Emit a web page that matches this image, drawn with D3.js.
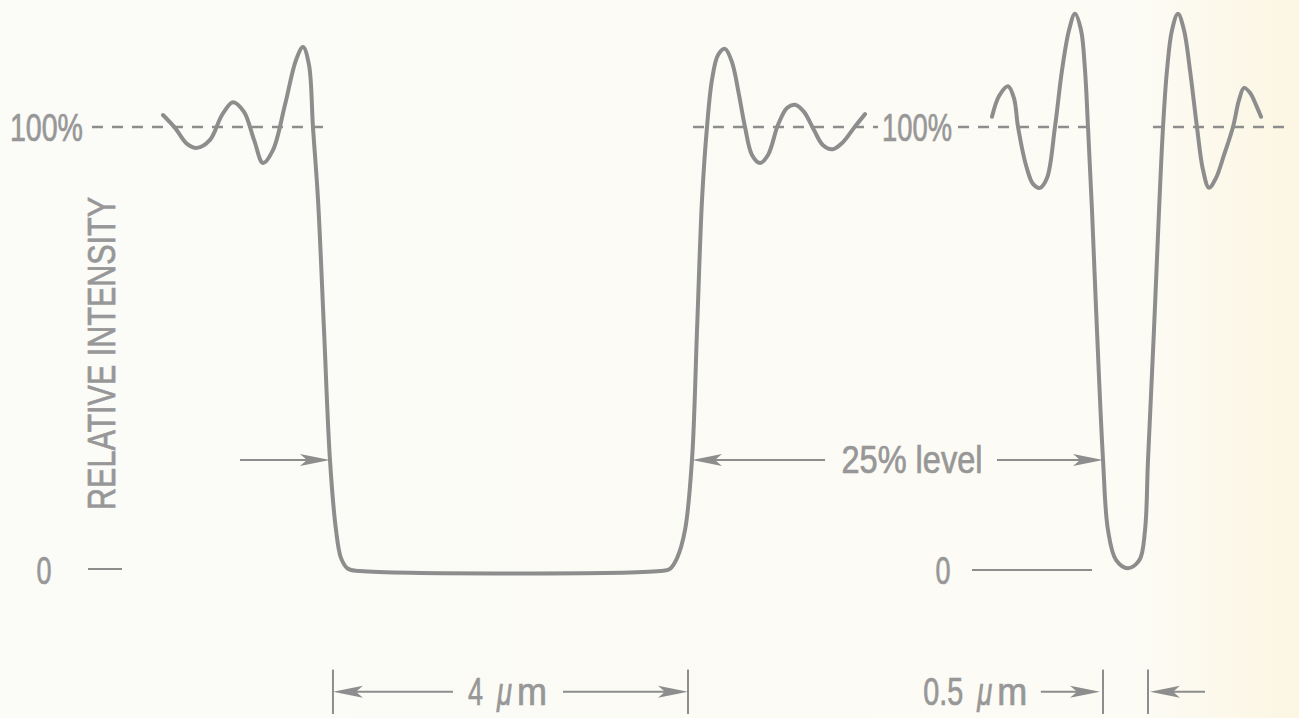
<!DOCTYPE html>
<html>
<head>
<meta charset="utf-8">
<script src="https://cdn.jsdelivr.net/npm/d3@7"></script>
<style>
body { margin: 0; background: #fbfbf8; }
svg { display: block; }
text { font-family: "Liberation Sans Narrow", "Arial Narrow", "Liberation Sans", sans-serif; fill: #979797; stroke: #979797; stroke-width: 0.7px; }
</style>
</head>
<body>
<script>
// profile across the 4 um line: position (um), relative intensity
var wideX = [0, 0.133, 0.265, 0.376, 0.519, 0.652, 0.773, 0.895, 1.006, 1.105, 1.215, 1.348, 1.470, 1.547, 1.613, 1.657,
             1.713, 1.779, 1.845, 1.912, 1.967, 2.044, 2.177, 5.492, 5.602, 5.680, 5.768, 5.845, 5.901, 5.956, 6.011,
             6.066, 6.133, 6.210, 6.287, 6.365, 6.431, 6.508, 6.597, 6.685, 6.796, 6.895, 6.983, 7.083, 7.193, 7.293,
             7.403, 7.514, 7.635, 7.757];
var wideI = [1.027, 0.998, 0.962, 0.953, 0.971, 1.027, 1.056, 1.034, 0.971, 0.919, 0.948, 1.050, 1.151, 1.180, 1.140, 1.0,
             0.836, 0.543, 0.25, 0.092, 0.029, 0.005, 0, 0, 0.005, 0.029, 0.092, 0.25, 0.543, 0.836, 1.0,
             1.106, 1.162, 1.176, 1.146, 1.072, 1.0, 0.937, 0.919, 0.937, 1.005, 1.043, 1.050, 1.034, 0.993, 0.959,
             0.950, 0.966, 0.998, 1.029];

// profile across the 0.5 um line
var narrowX = [9.160, 9.238, 9.337, 9.403, 9.448, 9.536, 9.613, 9.691, 9.768, 9.856, 9.934, 10.011, 10.077, 10.144, 10.188,
               10.221, 10.265, 10.320, 10.387, 10.442, 10.530, 10.663, 10.790, 10.851, 10.884, 10.950,
               11.006, 11.050, 11.094, 11.149, 11.215, 11.282, 11.348, 11.425, 11.492, 11.558, 11.635, 11.724, 11.823,
               11.890, 11.945, 12.011, 12.077, 12.133];
var narrowI = [1.023, 1.070, 1.092, 1.065, 1.0, 0.914, 0.872, 0.863, 0.885, 1.0, 1.128, 1.218, 1.255, 1.218, 1.128,
               1.0, 0.813, 0.543, 0.25, 0.092, 0.025, 0.006, 0.025, 0.092, 0.25, 0.543,
               0.813, 1.0, 1.128, 1.218, 1.255, 1.218, 1.128, 1.0, 0.903, 0.863, 0.885, 0.937, 1.0,
               1.061, 1.088, 1.077, 1.050, 1.023];

var refLevel = 1;       // 100%
var cutLevel = 0.25;    // 25% level
var refSegments = [[-0.785, 1.790], [5.856, 7.901], [8.785, 10.331], [10.939, 12.453]];
var wideMarks = [1.878, 5.801];     // 4 um
var narrowMarks = [10.387, 10.884]; // 0.5 um
var sizeValues = ["4", "0.5"];
var levelLabels = ["100%", "0"];
var axisTitle = "RELATIVE INTENSITY";
var cutLabel = "25% level";

var width = 1299, height = 718;

var svg = d3.select("body").append("svg")
  .attr("width", width)
  .attr("height", height);

// paper tone, a bit yellow on the right edge
var grad = svg.append("defs").append("linearGradient").attr("id", "paper");
grad.append("stop").attr("offset", "0").attr("stop-color", "#fbfbf8");
grad.append("stop").attr("offset", "0.88").attr("stop-color", "#fcfbf4");
grad.append("stop").attr("offset", "1").attr("stop-color", "#fcf6e2");
svg.append("rect").attr("width", width).attr("height", height).attr("fill", "url(#paper)");

var x = d3.scaleLinear().domain([0, 12.5]).range([163, 163 + 12.5 * 90.5]);
var y = d3.scaleLinear().domain([0, 1]).range([571, 127]);

var ink = "#8d8d8d";

// dashed 100% reference
svg.selectAll(".ref")
  .data(refSegments)
  .enter().append("line")
  .attr("class", "ref")
  .attr("x1", d => x(d[0])).attr("x2", d => x(d[1]))
  .attr("y1", y(refLevel)).attr("y2", y(refLevel))
  .style("stroke", ink).style("stroke-width", 2.4)
  .style("stroke-dasharray", "11,9");

var line = d3.line()
  .x(d => x(d[0]))
  .y(d => y(d[1]))
  .curve(d3.curveCatmullRom.alpha(0.5));

var profiles = [d3.zip(wideX, wideI), d3.zip(narrowX, narrowI)];

svg.selectAll(".profile")
  .data(profiles)
  .enter().append("path")
  .attr("class", "profile")
  .attr("d", line)
  .style("fill", "none")
  .style("stroke", ink)
  .style("stroke-width", 4)
  .style("stroke-linejoin", "round")
  .style("stroke-linecap", "round");

function arrow(x1, x2, yy){
  var dir = x2 > x1 ? 1 : -1;
  svg.append("line")
    .attr("x1", x1).attr("x2", x2 - dir * 20)
    .attr("y1", yy).attr("y2", yy)
    .style("stroke", ink).style("stroke-width", 2);
  svg.append("path")
    .attr("d", `M${x2} ${yy} L${x2 - dir * 30} ${yy - 6} L${x2 - dir * 23} ${yy} L${x2 - dir * 30} ${yy + 6} Z`)
    .style("fill", ink);
}

function label(txt, px, py, len, anchor){
  return svg.append("text")
    .attr("x", px).attr("y", py)
    .attr("text-anchor", anchor || "start")
    .attr("textLength", len)
    .attr("lengthAdjust", "spacingAndGlyphs")
    .style("font-size", "38px")
    .text(txt);
}

// "4 um" style label: number, italic mu, m  (separate pieces so they don't collide)
function sizeLabel(num, px, py, numLen){
  label(num, px, py, numLen);
  var mx = px + numLen + 14;
  label("\u03bc", mx, py, 15).style("font-style", "italic");
  label("m", mx + 20, py, 30);
}

// level labels
label(levelLabels[0], x(-1.691), y(refLevel) + 14, 73);
label(levelLabels[0], x(7.945), y(refLevel) + 14, 70);
label(levelLabels[1], x(-1.315), y(0) + 13, 15, "middle");
label(levelLabels[1], x(8.619), y(0) + 13, 15, "middle");

svg.append("line")
  .attr("x1", x(-0.829)).attr("x2", x(-0.453))
  .attr("y1", y(0) - 2).attr("y2", y(0) - 2)
  .style("stroke", ink).style("stroke-width", 2);
svg.append("line")
  .attr("x1", x(8.939)).attr("x2", x(10.265))
  .attr("y1", y(0) - 1).attr("y2", y(0) - 1)
  .style("stroke", ink).style("stroke-width", 2);

svg.append("text")
  .attr("transform", `translate(${x(-0.53)}, ${y(0.49)}) rotate(-90)`)
  .attr("text-anchor", "middle")
  .attr("textLength", 313)
  .attr("lengthAdjust", "spacingAndGlyphs")
  .style("font-size", "38px")
  .text(axisTitle);

// 25% level arrows
arrow(x(0.851), x(1.845), y(cutLevel));
arrow(x(7.315), x(5.845), y(cutLevel));
arrow(x(9.215), x(10.387), y(cutLevel));
label(cutLabel, x(8.276), y(cutLevel) + 13, 141, "middle");

// width markers underneath
var dimY = -0.272;
var barTop = -0.222, barBot = -0.322;

svg.selectAll(".bar")
  .data(wideMarks.concat(narrowMarks))
  .enter().append("line")
  .attr("class", "bar")
  .attr("x1", d => x(d)).attr("x2", d => x(d))
  .attr("y1", y(barTop)).attr("y2", y(barBot))
  .style("stroke", ink).style("stroke-width", 2);

arrow(x(3.204), x(wideMarks[0]), y(dimY));
arrow(x(4.420), x(wideMarks[1]), y(dimY));
arrow(x(9.700), x(narrowMarks[0]) - 3, y(dimY));
arrow(x(11.514), x(narrowMarks[1]) + 2, y(dimY));

sizeLabel(sizeValues[0], x(3.370), y(dimY) + 13, 15);
sizeLabel(sizeValues[1], x(8.400), y(dimY) + 13, 40);
</script>
</body>
</html>
